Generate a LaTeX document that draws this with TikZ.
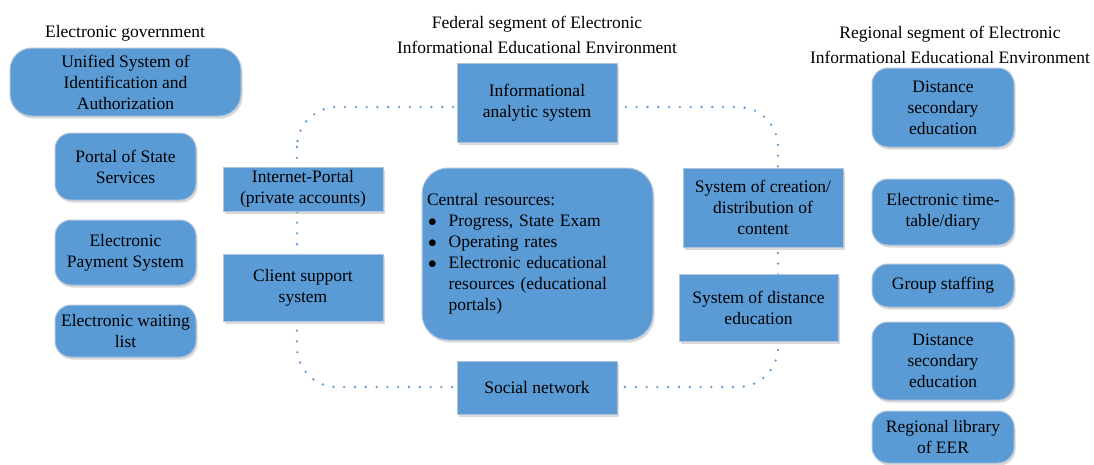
\documentclass[tikz,border=0pt]{standalone}
\usepackage{fontspec}
\setmainfont{Liberation Serif}
\usetikzlibrary{shadows}
\definecolor{boxblue}{RGB}{91,155,213}
\definecolor{boxedge}{RGB}{175,195,220}
\definecolor{dotblue}{RGB}{91,155,213}
\newcommand{\bigbul}{$\bullet$}
\begin{document}
\begin{tikzpicture}[x=1pt,y=-1pt,
  every node/.style={font=\fontsize{17.5}{21}\selectfont, text=black},
  base/.style={fill=boxblue, draw=boxedge, line width=1pt, inner sep=2pt, align=center,
    drop shadow={shadow xshift=1.5pt, shadow yshift=-2.5pt, opacity=0.15, fill=black}},
  rbox/.style={base, rounded corners=16pt},
  sbox/.style={base},
  title/.style={align=center, inner sep=0pt},
  loop/.style={draw=dotblue, line width=2.6pt, line cap=round, dash pattern=on 0pt off 10.8pt}
]
\useasboundingbox (0,0) rectangle (1094,464);

% dotted ring (drawn first, behind boxes)
\coordinate (ringNW) at (297,107);
\coordinate (ringSE) at (778,387);
\draw[loop, rounded corners=40pt] (ringNW) rectangle (ringSE);

% titles
\node[title] (tgov) at (125,33) {Electronic government};
\node[title] (tfed) at (537,35) {Federal segment of Electronic\\[4.5pt]Informational Educational Environment};
\node[title] (treg) at (950,44.5) {Regional segment of Electronic\\[4pt]Informational Educational Environment};

% electronic government
\node[rbox, rounded corners=22pt, minimum width=231, minimum height=68] (usia) at (125.5,82)
  {Unified System of\\Identification and\\Authorization};
\node[rbox, minimum width=141, minimum height=67] (portal) at (125.5,166.5)
  {Portal of State\\Services};
\node[rbox, minimum width=141, minimum height=65] (pay) at (125.5,252.5)
  {Electronic\\Payment System};
\node[rbox, minimum width=141, minimum height=52] (wait) at (125.5,331)
  {Electronic waiting\\list};

% federal segment
\node[sbox, minimum width=160, minimum height=44] (inet) at (303,189)
  {Internet-Portal\\(private accounts)};
\node[sbox, minimum width=160, minimum height=67] (client) at (303,287.5)
  {Client support\\system};
\node[sbox, minimum width=160, minimum height=79] (ias) at (537,102.5)
  {Informational\\analytic system};
\node[rbox, rounded corners=26pt, minimum width=231, minimum height=172,
      inner xsep=5pt, text width=221pt, align=left] (central) at (537.5,254)
  {\begin{tabular}{@{\hspace{1pt}}l@{\hspace{12pt}}l@{}}
   \multicolumn{2}{@{}l}{Central resources:}\\
   \bigbul & Progress, State Exam\\
   \bigbul & Operating rates\\
   \bigbul & Electronic educational\\
               & resources (educational\\
               & portals)
   \end{tabular}};
\node[sbox, minimum width=160, minimum height=53] (social) at (537,387.5)
  {Social network};
\node[sbox, minimum width=160, minimum height=79] (create) at (763,207.5)
  {System of creation/\\distribution of\\content};
\node[sbox, minimum width=159, minimum height=67] (dist) at (758.5,307.5)
  {System of distance\\education};

% regional segment
\node[rbox, minimum width=142, minimum height=79] (dse1) at (943,107.5)
  {Distance\\secondary\\education};
\node[rbox, minimum width=142, minimum height=66] (tt) at (943,212)
  {Electronic time-\\table/diary};
\node[rbox, minimum width=142, minimum height=43] (group) at (943,285.5)
  {Group staffing};
\node[rbox, minimum width=142, minimum height=78] (dse2) at (943,361)
  {Distance\\secondary\\education};
\node[rbox, minimum width=142, minimum height=52] (lib) at (943,437)
  {Regional library\\of EER};
\end{tikzpicture}
\end{document}
